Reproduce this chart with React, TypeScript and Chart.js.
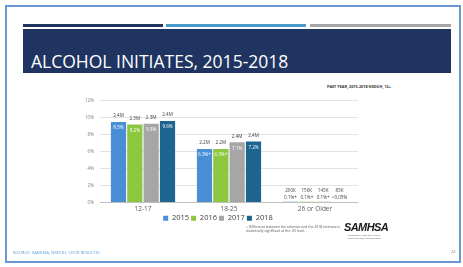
import React, { useEffect, useRef } from "react";
import { Chart, registerables } from "chart.js";
Chart.register(...registerables);

const categories = ["12-17", "18-25", "26 or Older"];
const years = ["2015", "2016", "2017", "2018"];
const pct2015 = [9.5, 6.3, 0.1];
const pct2016 = [9.2, 6.3, 0.1];
const pct2017 = [9.3, 7.1, 0.1];
const pct2018 = [9.6, 7.2, 0.05];
const count2015 = ["2.4M", "2.2M", "200K"];
const count2016 = ["2.3M", "2.2M", "150K"];
const count2017 = ["2.3M", "2.4M", "143K"];
const count2018 = ["2.4M", "2.4M", "83K"];
const pctText2015 = ["9.5%", "6.3%+", "0.1%+"];
const pctText2016 = ["9.2%", "6.3%+", "0.1%+"];
const pctText2017 = ["9.3%", "7.1%", "0.1%+"];
const pctText2018 = ["9.6%", "7.2%", "<0.05%"];
const yMax = 12;
const yStep = 2;

const seriesValues = [pct2015, pct2016, pct2017, pct2018];
const seriesCounts = [count2015, count2016, count2017, count2018];
const seriesPctText = [pctText2015, pctText2016, pctText2017, pctText2018];
const colors = ["#4a8fd6", "#8dc63f", "#a6a6a6", "#1c6590"];

const labelPlugin = {
  id: "barLabels",
  afterDatasetsDraw(chart: any) {
    const ctx = chart.ctx;
    chart.data.datasets.forEach((_ds: any, di: number) => {
      const meta = chart.getDatasetMeta(di);
      meta.data.forEach((bar: any, i: number) => {
        const top = bar.y;
        const h = bar.base - bar.y;
        ctx.save();
        ctx.font = "4.6px 'Open Sans'";
        ctx.textAlign = "center";
        ctx.textBaseline = "middle";
        if (h > 12) {
          ctx.fillStyle = "#404040";
          ctx.fillText(seriesCounts[di][i], bar.x, top - 6);
          ctx.fillStyle = "#ffffff";
          ctx.fillText(seriesPctText[di][i], bar.x, top + 6);
        } else {
          ctx.fillStyle = "#404040";
          ctx.fillText(seriesCounts[di][i], bar.x, top - 11);
          ctx.fillText(seriesPctText[di][i], bar.x, top - 4);
        }
        ctx.restore();
      });
    });
  },
};

function ChartBox() {
  const ref = useRef<HTMLCanvasElement>(null);
  useEffect(() => {
    const chart = new Chart(ref.current!, {
      type: "bar",
      data: {
        labels: categories,
        datasets: years.map((y, i) => ({
          label: y,
          data: seriesValues[i],
          backgroundColor: colors[i],
          barPercentage: 0.93,
          categoryPercentage: 0.76,
        })),
      },
      options: {
        animation: false,
        responsive: false,
        maintainAspectRatio: false,
        layout: { padding: { top: 8, right: 0, left: 0, bottom: 0 } },
        plugins: {
          tooltip: { enabled: false },
          legend: {
            position: "bottom",
            labels: {
              boxWidth: 5,
              boxHeight: 5,
              padding: 2,
              color: "#404040",
              font: { size: 7.5, family: "'Open Sans'" },
            },
          },
        },
        scales: {
          x: {
            grid: { display: false, drawTicks: false },
            border: { display: true, color: "#bfbfbf", width: 1 },
            ticks: { color: "#595959", font: { size: 6.5, family: "'Open Sans'" }, padding: 3 },
            afterFit: (s: any) => { s.height = 10; },
          },
          y: {
            min: 0,
            max: yMax,
            grid: { color: "#e3e3e3", drawTicks: false },
            border: { display: false },
            ticks: {
              stepSize: yStep,
              color: "#7f7f7f",
              padding: 6,
              font: { size: 4.6, family: "'Open Sans'" },
              callback: (v: any) => v + "%",
            },
            afterFit: (s: any) => { s.width = 22; },
          },
        },
      },
      plugins: [labelPlugin],
    });
    return () => chart.destroy();
  }, []);
  return (
    <canvas
      ref={ref}
      width={280}
      height={140}
      style={{ position: "absolute", left: 78, top: 92, width: 280, height: 140 }}
    />
  );
}

export default function App() {
  const abs = (o: React.CSSProperties): React.CSSProperties => ({ position: "absolute", ...o });
  return (
    <div
      style={{
        position: "fixed",
        left: 0,
        top: 0,
        width: 463,
        height: 267,
        background: "#ffffff",
        overflow: "hidden",
        fontFamily: "'Open Sans', sans-serif",
      }}
    >
      <div style={abs({ left: 5, top: 5, width: 452, height: 254, border: "2px solid #6a98d2" })} />
      <div style={abs({ left: 23, top: 24, width: 140, height: 3, background: "#1f3461" })} />
      <div style={abs({ left: 166, top: 24, width: 140, height: 3, background: "#4a9bc9" })} />
      <div style={abs({ left: 310, top: 24, width: 141, height: 3, background: "#a5a5a5" })} />
      <div style={abs({ left: 23, top: 29, width: 428, height: 44, background: "#1f3461" })} />
      <div
        style={abs({
          left: 31,
          top: 52.5,
          color: "#ffffff",
          fontFamily: "'Open Sans', sans-serif",
          fontSize: 17.5,
          lineHeight: "17px",
          whiteSpace: "nowrap",
        })}
      >
        ALCOHOL INITIATES, 2015-2018
      </div>
      <div style={abs({ left: 327, top: 84, fontSize: 3.8, color: "#333", fontWeight: 700, whiteSpace: "nowrap" })}>
        PAST YEAR, 2015-2018 NSDUH, 12+
      </div>
      <ChartBox />
      <div style={abs({ left: 246, top: 225, fontSize: 3.4, lineHeight: "4px", color: "#555", whiteSpace: "nowrap" })}>
        + Difference between the estimate and the 2018 estimate is
        <br />
        statistically significant at the .05 level.
      </div>
      <div
        style={abs({
          left: 344,
          top: 221,
          fontSize: 11,
          fontWeight: 700,
          fontStyle: "italic",
          fontFamily: "'Liberation Sans', Arial, sans-serif",
          color: "#1a1a1a",
          letterSpacing: -0.6,
          whiteSpace: "nowrap",
        })}
      >
        SAMHSA
      </div>
      <div style={abs({ left: 345, top: 234, width: 38, fontSize: 2.4, lineHeight: "3px", color: "#555", textAlign: "center" })}>
        Substance Abuse and Mental Health Services Administration
      </div>
      <div style={abs({ left: 13, top: 249, fontSize: 4.3, color: "#5b9bd5", whiteSpace: "nowrap" })}>
        SOURCE: SAMHSA, NSDUH, (2018 RESULTS).
      </div>
      <div style={abs({ left: 451, top: 249, fontSize: 4, color: "#888", whiteSpace: "nowrap" })}>24</div>
    </div>
  );
}
